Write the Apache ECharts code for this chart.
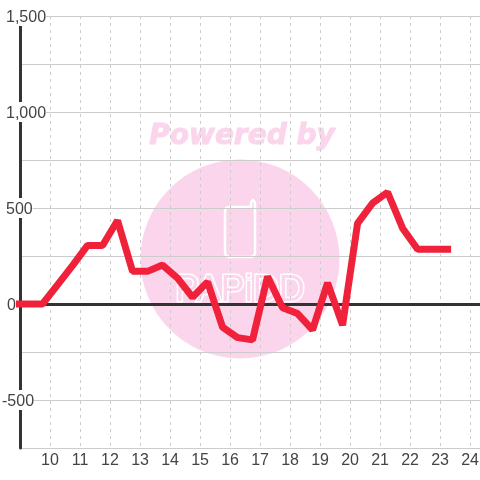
<!DOCTYPE html>
<html>
<head>
<meta charset="utf-8">
<style>html,body{margin:0;background:#fff}#chart{width:480px;height:480px}</style>
<script src="https://cdn.jsdelivr.net/npm/echarts@6/dist/echarts.min.js"></script>
</head>
<body>
<div id="chart"></div>
<script>
const hours = [8.75, 9.25, 9.75, 10.25, 10.75, 11.25, 11.75, 12.25, 12.75, 13.25, 13.75, 14.25, 14.75, 15.25, 15.75, 16.25, 16.75, 17.25, 17.75, 18.25, 18.75, 19.25, 19.75, 20.25, 20.75, 21.25, 21.75, 22.25, 22.75, 23.25]
const values = [0, 0, 0, 100, 200, 305, 305, 435, 170, 170, 203, 135, 35, 115, -120, -175, -187, 143, -20, -50, -135, 110, -110, 420, 525, 582, 395, 285, 285, 285]

const pink = '#fbd5ec'
const font = '"Liberation Sans", Arial, sans-serif'

const chart = echarts.init(document.getElementById('chart'), null, { renderer: 'canvas' })
chart.setOption({
  animation: false,
  backgroundColor: '#fff',
  grid: { left: 20, right: 0, top: 16, bottom: 32, outerBoundsMode: 'none' },
  // watermark behind the grid
  graphic: [
    { type: 'circle', z: -10, shape: { cx: 240, cy: 259, r: 99.5 }, style: { fill: pink } },
    { type: 'text', z: -10, x: 242, y: 137, style: { text: 'Powered by', fill: pink, stroke: pink, lineWidth: 1, font: 'italic bold 28px "DejaVu Sans"', align: 'center', verticalAlign: 'middle' } },
    {
      type: 'polygon',
      z: -9,
      shape: { points: [[229, 207], [251, 207], [251, 203], [252, 201], [253, 200], [254, 201], [255, 203], [255, 253], [254, 256], [251, 257], [229, 257], [226, 256], [225, 253], [225, 211], [226, 208]] },
      style: { fill: 'none', stroke: '#fff', lineWidth: 2.5 }
    },
    { type: 'text', z: -9, x: 240, y: 291, style: { text: 'PAPiDD', fill: pink, stroke: '#fff', lineWidth: 3, font: '36px "Liberation Sans"', align: 'center', verticalAlign: 'middle' } }
  ],
  xAxis: [
    {
      type: 'value',
      min: 9,
      max: 24.33,
      interval: 1,
      axisLine: { show: false, onZero: false },
      axisTick: { show: false },
      axisLabel: {
        showMaxLabel: false,
        color: '#444',
        fontFamily: font,
        fontSize: 16,
        margin: 5,
        formatter: v => (v === 9 ? '' : String(v))
      },
      splitLine: { showMinLine: false, showMaxLine: false, lineStyle: { color: '#ccc', width: 1, type: [3, 4] } }
    },
    {
      type: 'value',
      min: 9,
      max: 24.33,
      interval: 1,
      axisLine: { show: true, onZero: true, lineStyle: { color: '#333', width: 3 } },
      axisTick: { show: false },
      axisLabel: { show: false },
      splitLine: { show: false }
    }
  ],
  yAxis: {
    type: 'value',
    min: -750,
    max: 1500,
    interval: 250,
    axisLine: { show: true, onZero: false, lineStyle: { color: '#333', width: 3 } },
    axisTick: { show: false },
    axisLabel: {
      align: 'left',
      margin: 18,
      formatter: v => {
        if (v % 500 !== 0) return ''
        const s = v.toLocaleString('en-US')
        if (v === 0) return `{zero|${s}}`
        return v < 0 ? `{neg|${s}}` : `{pos|${s}}`
      },
      rich: {
        pos: { color: '#444', fontFamily: font, fontSize: 16, backgroundColor: '#fff', height: 16, lineHeight: 16, padding: [4, 0, 0, 4] },
        neg: { color: '#444', fontFamily: font, fontSize: 16, backgroundColor: '#fff', height: 16, lineHeight: 16, padding: [4, 0, 0, 0] },
        zero: { color: '#444', fontFamily: font, fontSize: 16, height: 16, lineHeight: 16, padding: [4, 0, 0, 5] }
      }
    },
    splitLine: { lineStyle: { color: '#ccc', width: 1 } }
  },
  series: [
    {
      type: 'line',
      xAxisIndex: 0,
      data: hours.map((h, i) => [h, values[i]]),
      showSymbol: false,
      symbol: 'none',
      clip: true,
      z: 5,
      lineStyle: { color: '#f0213a', width: 7, cap: 'square', join: 'bevel' }
    }
  ]
})
</script>
</body>
</html>
